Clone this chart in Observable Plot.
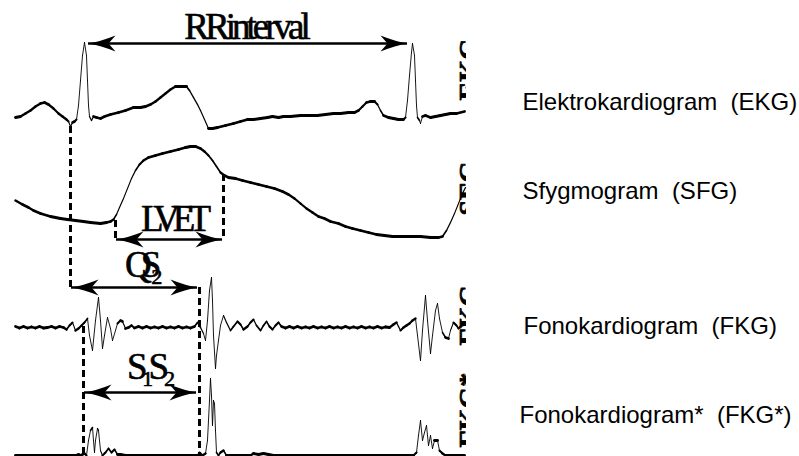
<!DOCTYPE html>
<html><head><meta charset="utf-8">
<script src="https://cdn.jsdelivr.net/npm/d3@7"></script>
<script src="https://cdn.jsdelivr.net/npm/@observablehq/plot@0.6"></script>
<style>html,body{margin:0;padding:0;background:#fff;}</style>
</head><body><div id="chart"></div>
<script>
// Traces: [time (px units), signal level (px units)]
const ekg = [[15,117],[20,116],[25,113],[30,110],[35,106],[40,103],[44,102],[48,104],[53,108],[58,113],[62,116],[66,119],[68,121],[70,126],[72,122],[74,121],[76,119],[78,105],[80,80],[82,55],[84,42],[86,55],[87,80],[88,105],[89,116],[91,120],[93,116],[96,117],[100,118],[104,116],[110,114],[118,112],[125,110],[133,107],[140,107],[145,106],[150,104],[155,101],[160,97],[165,93],[170,89],[175,86],[182,86],[186,86],[189,90],[193,97],[197,104],[200,110],[204,119],[208,128],[212,128],[217,127],[225,125],[233,123],[240,121],[247,119],[253,119],[260,118],[267,117],[272,116],[278,117],[283,116],[290,116],[300,115],[308,115],[317,115],[325,114],[333,113],[340,113],[348,112],[354,112],[358,110],[362,106],[366,102],[370,101],[374,101],[377,104],[380,110],[383,115],[388,117],[393,118],[398,119],[403,119],[405,117],[407,100],[409,75],[411,52],[412,43],[414,55],[415,80],[416,105],[417,117],[419,120],[420,123],[422,116],[425,115],[430,117],[435,116],[440,115],[445,114],[450,113],[456,113],[464,111]];
const sfg = [[15,200],[22,204],[28,207],[33,210],[40,213],[50,216],[60,218],[67,219],[75,220],[83,221],[90,222],[100,223],[106,222],[110,221],[113,219],[116,214],[119,207],[123,198],[127,188],[131,178],[135,170],[139,164],[143,160],[148,157],[155,155],[162,153],[170,151],[178,149],[185,147],[190,146],[195,146],[200,148],[204,151],[208,155],[212,160],[216,166],[220,172],[224,175],[228,177],[235,178],[242,180],[250,182],[258,184],[266,186],[274,188],[282,191],[288,194],[294,198],[300,203],[306,208],[312,212],[318,216],[324,218],[330,221],[338,223],[345,226],[352,228],[360,230],[368,232],[376,234],[384,235],[392,236],[400,236],[410,236],[420,236],[430,237],[438,237],[442,236],[446,230],[450,222],[454,213],[458,203],[462,193],[465,187]];
const fkg = [[15,326],[19,327.5],[23,326],[27,327.5],[31,326.5],[35,327.5],[39,326],[43,327.5],[47,327],[51,326],[55,327.5],[59,326],[63,327],[66,329],[69,325],[72,322],[75,330],[78,328],[81,325],[84,322],[87,318],[89,335],[92,350],[95,320],[98,297],[100,320],[102,348],[104,335],[107,317],[110,328],[112,340],[115,330],[117,323],[120,320],[122,321],[125,328],[128,327],[131,325],[134,327.5],[138,326],[142,327.5],[146,326],[150,327.5],[154,326.5],[158,327.5],[162,326],[166,327.5],[170,326.5],[174,327.5],[178,326],[182,327.5],[186,326.5],[190,327.5],[194,326],[197,322],[200,327],[203,333],[205,340],[207,320],[209,290],[211,277],[212,300],[213,335],[215,368],[216,355],[218,340],[220,325],[223,315],[226,322],[230,330],[233,326],[237,321],[240,324],[243,329],[247,326],[250,322],[253,319],[256,325],[260,330],[263,325],[266,321],[269,326],[272,329],[275,325],[278,322],[281,326],[285,327.5],[289,326],[293,327.5],[297,326],[301,327.5],[305,326.5],[309,327.5],[313,326],[317,327.5],[321,326.5],[325,327.5],[329,326],[333,327.5],[337,326.5],[341,327.5],[345,326],[349,327.5],[353,326.5],[357,327.5],[361,326],[365,327.5],[369,326.5],[373,327.5],[377,326],[381,327.5],[385,326.5],[389,327],[393,324],[396,322],[398,326],[400,330],[403,327],[406,325],[409,323],[412,320],[415,318],[417,335],[420,360],[422,330],[425,295],[427,320],[430,353],[432,335],[435,310],[437,303],[439,318],[442,332],[445,337],[448,338],[450,330],[453,322],[456,325],[458,328],[461,325],[464,324]];
const fkgStar = [[15,455],[75,455],[78,454],[80,455],[84,453],[86,455],[88,440],[90,430],[92,427],[93,440],[94,452],[95,440],[97,428],[98,430],[100,450],[102,455],[105,452],[108,448],[111,452],[114,449],[117,454],[120,454],[125,455],[197,455],[199,452],[202,455],[205,453],[207,440],[209,400],[210,378],[211,395],[212,425],[213,400],[214,403],[215,430],[216,452],[218,455],[220,452],[223,450],[226,455],[250,455],[253,453],[258,454],[263,453],[268,454],[273,455],[390,455],[413,455],[416,452],[418,435],[420,420],[422,440],[424,432],[426,425],[428,445],[430,435],[432,448],[434,440],[437,440],[439,450],[442,453],[445,455],[464,455]];

// Annotations
const dashLines = [{x:70,y1:126,y2:287},{x:115,y1:220,y2:240},{x:223,y1:174,y2:240},{x:199,y1:287,y2:456},{x:83,y1:326,y2:456}];
const arrows = [{x1:88,x2:407,y:43},{x1:116,x2:222,y:239},{x1:71,x2:197,y:287},{x1:84,x2:196,y:392}];
const serifLabels = [
  {t:"RRinterval",x:245,y:38},
  {t:"LVET",x:172,y:230},
  {t:"QS\u2082",x:138,y:276},
  {t:"S\u2081S\u2082",x:148,y:378}
];
const rightLabels = [
  {t:"Elektrokardiogram  (EKG)",x:522,y:109},
  {t:"Sfygmogram  (SFG)",x:522,y:198},
  {t:"Fonokardiogram  (FKG)",x:523,y:333},
  {t:"Fonokardiogram*  (FKG*)",x:519,y:422}
];
const edgeLabels = [{t:"EKG",x:458,y:100},{t:"SFG",x:458,y:215},{t:"FKG",x:458,y:345},{t:"FKG*",x:458,y:447}];

const segs = pts => d3.pairs(pts).map(([a,b]) => ({x1:a[0],y1:a[1],x2:b[0],y2:b[1]}));
const pen = d => Math.max(0.9, 2.9/Math.hypot(1,(d.y2-d.y1)/(d.x2-d.x1)));
const headRight = {draw(c){c.moveTo(0,0);c.quadraticCurveTo(-12,-2,-27,-8);c.lineTo(-20,0);c.lineTo(-27,8);c.quadraticCurveTo(-12,2,0,0);c.closePath();}};
const headLeft = {draw(c){c.moveTo(0,0);c.quadraticCurveTo(12,-2,27,-8);c.lineTo(20,0);c.lineTo(27,8);c.quadraticCurveTo(12,2,0,0);c.closePath();}};

const traceMark = pts => Plot.link(segs(pts), {x1:"x1",y1:"y1",x2:"x2",y2:"y2",stroke:"black",strokeWidth:pen,strokeLinecap:"round"});

const chart = Plot.plot({
  width:799, height:456, marginLeft:0, marginRight:333, marginTop:0, marginBottom:0,
  x:{domain:[0,466], axis:null},
  y:{domain:[456,0], axis:null},
  style:{background:"white"},
  marks:[
    traceMark(ekg), traceMark(sfg), traceMark(fkg), traceMark(fkgStar),
    Plot.ruleX(dashLines,{x:"x",y1:"y1",y2:"y2",stroke:"black",strokeWidth:3,strokeDasharray:"7,4"}),
    Plot.ruleY(arrows,{y:"y",x1:"x1",x2:"x2",stroke:"black",strokeWidth:2.5}),
    Plot.dot(arrows,{x:"x1",y:"y",symbol:headLeft,fill:"black",stroke:"none"}),
    Plot.dot(arrows,{x:"x2",y:"y",symbol:headRight,fill:"black",stroke:"none"}),
    Plot.text(serifLabels,{x:"x",y:"y",text:"t",fontSize:37,textAnchor:"middle",lineAnchor:"bottom",fontFamily:"Liberation Serif, Times New Roman, serif",fill:"black",stroke:"black",strokeWidth:0.6}),
    Plot.text(rightLabels,{x:"x",y:"y",text:"t",fontSize:24,textAnchor:"start",lineAnchor:"bottom",fontFamily:"Liberation Sans, Arial, sans-serif",fill:"black"}),
    Plot.text(edgeLabels,{x:"x",y:"y",text:"t",fontSize:28,rotate:-90,textAnchor:"start",lineAnchor:"top",fontWeight:"bold",fontFamily:"Liberation Serif, serif",fill:"black",stroke:"black",strokeWidth:0.8,clip:true})
  ]
});
const spacing = {"RRinterval":"-4px","LVET":"-7px","QS\u2082":"-11px","S\u2081S\u2082":"-6px"};
d3.select(chart).selectAll("text").each(function(){ const t=this.textContent; if (spacing[t]) this.setAttribute("letter-spacing", spacing[t]); });
document.getElementById("chart").appendChild(chart);
</script></body></html>
